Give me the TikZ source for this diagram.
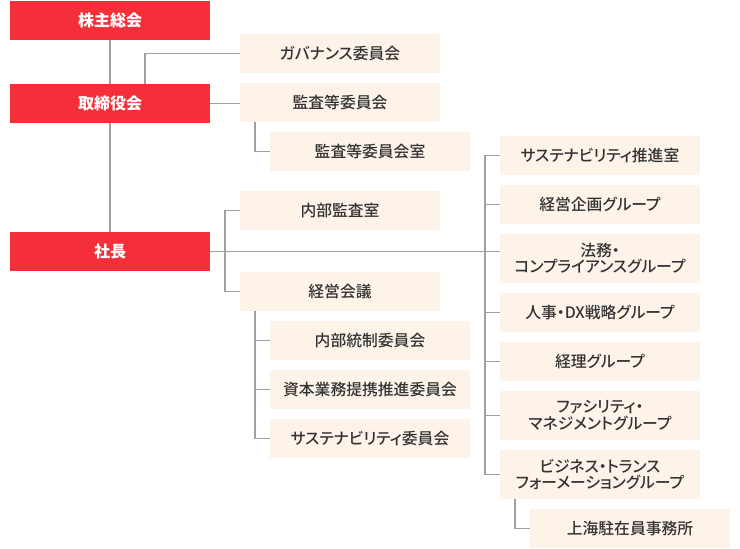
\documentclass[tikz,border=0pt]{standalone}
\usepackage{fontspec}
\usetikzlibrary{calc}
\newfontfamily\jp[RawFeature=+palt]{Noto Sans CJK JP}
\newfontfamily\jpm[RawFeature=+palt]{Noto Sans CJK JP Medium}
\definecolor{boxred}{HTML}{F52F39}
\definecolor{beige}{HTML}{FDF3E9}
\definecolor{linegray}{HTML}{A0A0A0}
\definecolor{txt}{HTML}{333333}
\begin{document}
\begin{tikzpicture}[x=1pt,y=-1pt,
  redbox/.style={fill=boxred,text=white,minimum width=200pt,minimum height=39pt,inner sep=0pt,
    font=\jp\bfseries\fontsize{16}{17}\selectfont},
  orgbox/.style={fill=beige,text=txt,minimum width=200pt,minimum height=39pt,inner sep=0pt,align=center,
    font=\jpm\fontsize{15.8}{16.2}\selectfont},
  tallbox/.style={orgbox,minimum height=49pt},
  conn/.style={draw=linegray,line width=1.8pt}]
\useasboundingbox (0,0) rectangle (740,549);
% red boxes
\node[redbox] (kabu) at (110,20.5) {株主総会};
\node[redbox] (tori) at (110,103.5) {取締役会};
\node[redbox] (shacho) at (110,251.5) {社長};
% middle column
\node[orgbox] (gov) at (340,53.5) {ガバナンス委員会};
\node[orgbox] (kansa) at (340,102.5) {監査等委員会};
\node[orgbox] (kansashitsu) at (370,151.5) {監査等委員会室};
\node[orgbox] (naibu) at (340,210.5) {内部監査室};
\node[orgbox] (keiei) at (340,291.5) {経営会議};
\node[orgbox] (tousei) at (370,340.5) {内部統制委員会};
\node[orgbox] (shihon) at (370,389.5) {資本業務提携推進委員会};
\node[orgbox] (sus) at (370,438.5) {サステナビリティ委員会};
% right column
\node[orgbox] (r1) at (600,155.5) {サステナビリティ推進室};
\node[orgbox] (r2) at (600,204.5) {経営企画グループ};
\node[tallbox] (r3) at (600,258.5) {法務・\\コンプライアンスグループ};
\node[orgbox] (r4) at (600,312.5) {人事・DX戦略グループ};
\node[orgbox] (r5) at (600,361.5) {経理グループ};
\node[tallbox] (r6) at (600,415.5) {ファシリティ・\\マネジメントグループ};
\node[tallbox] (r7) at (600,474.5) {ビジネス・トランス\\フォーメーショングループ};
\node[orgbox] (sh) at (630,528.5) {上海駐在員事務所};
% connectors
\coordinate (govdrop) at ($(tori.north west)+(135,0)$);
\draw[conn] (kabu.south) -- (tori.north);
\draw[conn] (tori.south) -- (shacho.north);
\draw[conn] (govdrop) |- (gov.west);
\draw[conn] (tori.east) -- (tori.east -| kansa.west);
\draw[conn] ([xshift=15pt]kansa.south west) |- (kansashitsu.west);
\draw[conn] (naibu.west) -- ++(-15,0) |- (keiei.west);
\draw[conn] (shacho.east) -- (shacho.east -| r3.west);
\draw[conn] ([xshift=15pt]keiei.south west) |- (sus.west);
\draw[conn] (tousei.west) -- ++(-15,0);
\draw[conn] (shihon.west) -- ++(-15,0);
\draw[conn] (r1.west) -- ++(-15,0) |- (r7.west);
\draw[conn] (r2.west) -- ++(-15,0);
\draw[conn] (r4.west) -- ++(-15,0);
\draw[conn] (r5.west) -- ++(-15,0);
\draw[conn] (r6.west) -- ++(-15,0);
\draw[conn] ([xshift=15pt]r7.south west) |- (sh.west);
\end{tikzpicture}
\end{document}
